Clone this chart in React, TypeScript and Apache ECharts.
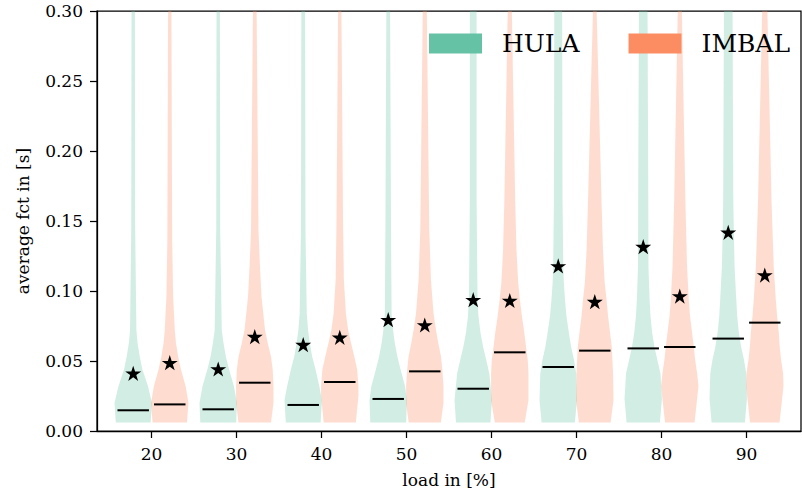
import React, { useEffect, useRef } from "react";
import * as echarts from "echarts";

// ---- data ----
const loads = [20, 30, 40, 50, 60, 70, 80, 90];
const yTicks = [0, 0.05, 0.1, 0.15, 0.2, 0.25, 0.3];

const hulaMeans = [0.0412, 0.0443, 0.0617, 0.0795, 0.0938, 0.1179, 0.1317, 0.1419];
const imbalMeans = [0.0488, 0.0674, 0.0669, 0.0757, 0.0932, 0.0924, 0.0964, 0.1114];

const hulaMedians = [0.0148, 0.0155, 0.0186, 0.0229, 0.0302, 0.0457, 0.059, 0.066];
const imbalMedians = [0.019, 0.0345, 0.035, 0.0426, 0.0562, 0.0574, 0.06, 0.0774];

// violin profiles: [value, relative density (1 = widest)]
const hulaProfiles: number[][][] = [
  [[0.006, 0.93], [0.02, 1], [0.032, 0.79], [0.044, 0.49], [0.053, 0.35], [0.063, 0.23], [0.072, 0.17], [0.144, 0.105], [0.3, 0.09]],
  [[0.006, 0.96], [0.02, 1], [0.032, 0.84], [0.044, 0.58], [0.053, 0.41], [0.063, 0.28], [0.072, 0.19], [0.144, 0.105], [0.3, 0.09]],
  [[0.006, 0.93], [0.022, 1], [0.032, 0.86], [0.044, 0.66], [0.053, 0.48], [0.063, 0.35], [0.072, 0.26], [0.084, 0.19], [0.144, 0.12], [0.3, 0.1]],
  [[0.006, 0.96], [0.022, 1], [0.032, 0.9], [0.044, 0.66], [0.053, 0.49], [0.063, 0.35], [0.072, 0.26], [0.084, 0.18], [0.144, 0.15], [0.3, 0.1]],
  [[0.006, 0.92], [0.022, 1], [0.041, 0.86], [0.051, 0.69], [0.06, 0.53], [0.07, 0.39], [0.082, 0.28], [0.094, 0.23], [0.165, 0.18], [0.3, 0.18]],
  [[0.006, 0.89], [0.022, 1], [0.041, 0.96], [0.051, 0.84], [0.06, 0.69], [0.07, 0.57], [0.082, 0.44], [0.094, 0.36], [0.106, 0.3], [0.117, 0.27], [0.165, 0.23], [0.3, 0.21]],
  [[0.006, 0.89], [0.023, 1], [0.041, 0.92], [0.051, 0.75], [0.06, 0.6], [0.07, 0.48], [0.082, 0.39], [0.094, 0.34], [0.117, 0.28], [0.165, 0.27], [0.3, 0.23]],
  [[0.006, 0.89], [0.023, 1], [0.041, 0.96], [0.051, 0.84], [0.06, 0.69], [0.07, 0.57], [0.082, 0.48], [0.094, 0.43], [0.117, 0.34], [0.141, 0.3], [0.165, 0.27], [0.3, 0.23]],
];

const imbalProfiles: number[][][] = [
  [[0.006, 0.92], [0.02, 1], [0.032, 0.85], [0.044, 0.6], [0.053, 0.45], [0.063, 0.33], [0.072, 0.27], [0.096, 0.18], [0.136, 0.13], [0.3, 0.09]],
  [[0.006, 0.87], [0.02, 1], [0.032, 1], [0.044, 0.96], [0.053, 0.87], [0.063, 0.69], [0.072, 0.55], [0.096, 0.36], [0.12, 0.27], [0.144, 0.2], [0.3, 0.1]],
  [[0.006, 0.86], [0.025, 1], [0.032, 1], [0.044, 0.93], [0.053, 0.78], [0.063, 0.6], [0.072, 0.45], [0.084, 0.33], [0.108, 0.22], [0.144, 0.18], [0.3, 0.09]],
  [[0.006, 0.86], [0.02, 1], [0.032, 1], [0.044, 0.94], [0.053, 0.87], [0.063, 0.72], [0.072, 0.6], [0.084, 0.47], [0.108, 0.33], [0.144, 0.24], [0.3, 0.11]],
  [[0.006, 0.8], [0.022, 1], [0.041, 1], [0.051, 0.96], [0.06, 0.87], [0.07, 0.78], [0.082, 0.65], [0.094, 0.54], [0.106, 0.45], [0.129, 0.36], [0.165, 0.29], [0.3, 0.11]],
  [[0.006, 0.85], [0.022, 1], [0.041, 0.98], [0.06, 0.91], [0.07, 0.82], [0.082, 0.71], [0.094, 0.63], [0.106, 0.53], [0.129, 0.44], [0.165, 0.36], [0.3, 0.1]],
  [[0.006, 0.79], [0.032, 1], [0.041, 0.93], [0.051, 0.82], [0.06, 0.75], [0.07, 0.66], [0.082, 0.55], [0.094, 0.48], [0.117, 0.39], [0.165, 0.3], [0.3, 0.11]],
  [[0.006, 0.79], [0.032, 1], [0.041, 0.98], [0.051, 0.87], [0.06, 0.8], [0.07, 0.75], [0.082, 0.66], [0.094, 0.59], [0.117, 0.48], [0.165, 0.36], [0.3, 0.14]],
];

// ---- layout constants ----
const OFFSET = 2.15; // violin centre offset from load tick
const MAXHALF = 2.2; // widest half-width in x units
const MEDHALF = 1.85; // half length of median line in x units
const FONT = "DejaVu Serif";

const STAR =
  "path://M0 -1 L-0.2245 -0.309 L-0.9511 -0.309 L-0.3633 0.118 L-0.5878 0.809 L0 0.382 L0.5878 0.809 L0.3633 0.118 L0.9511 -0.309 L0.2245 -0.309 Z";

function makeRenderItem(profiles: number[][][], medians: number[], offset: number, fill: string) {
  return (params: any, api: any) => {
    const i = params.dataIndex;
    const cx = api.value(0) + offset;
    const prof = profiles[i];
    const pts: number[][] = [];
    for (const [v, d] of prof) pts.push(api.coord([cx + d * MAXHALF, v]));
    for (let k = prof.length - 1; k >= 0; k--) pts.push(api.coord([cx - prof[k][1] * MAXHALF, prof[k][0]]));
    const m = medians[i];
    const a = api.coord([cx - MEDHALF, m]);
    const b = api.coord([cx + MEDHALF, m]);
    return {
      type: "group",
      children: [
        { type: "polygon", shape: { points: pts }, style: { fill } },
        {
          type: "line",
          z2: 10,
          shape: { x1: a[0], y1: a[1], x2: b[0], y2: b[1] },
          style: { stroke: "#000", lineWidth: 2 },
        },
      ],
    };
  };
}

export default function App() {
  const ref = useRef<HTMLDivElement>(null);
  useEffect(() => {
    if (!ref.current) return;
    const chart = echarts.init(ref.current, undefined, { renderer: "svg" });
    const option: any = {
      animation: false,
      backgroundColor: "#fff",
      textStyle: { fontFamily: FONT },
      grid: {
        left: 97,
        right: 1,
        top: 11,
        bottom: 63,
        show: true,
        borderColor: "#000",
        borderWidth: 1.25,
      },
      legend: {
        data: ["HULA", "IMBAL"],
        left: 429,
        top: 31,
        padding: 0,
        icon: "rect",
        itemWidth: 53,
        itemHeight: 20,
        itemGap: 49,
        textStyle: { fontFamily: FONT, fontSize: 25, color: "#000", padding: [0, 0, 0, 15] },
      },
      xAxis: {
        type: "value",
        min: 13.59,
        max: 96.41,
        name: "load in [%]",
        nameLocation: "middle",
        nameGap: 40,
        nameTextStyle: { fontFamily: FONT, fontSize: 17, color: "#000" },
        axisLine: { show: true, lineStyle: { color: "#000", width: 1.25 } },
        axisTick: { show: true, length: 7, customValues: loads, lineStyle: { color: "#000", width: 1.25 } },
        axisLabel: {
          customValues: loads,
          margin: 14,
          fontFamily: FONT,
          fontSize: 17,
          color: "#000",
          formatter: (v: number) => String(Math.round(v)),
        },
        splitLine: { show: false },
      },
      yAxis: {
        type: "value",
        min: yTicks[0],
        max: yTicks[yTicks.length - 1],
        interval: 0.05,
        name: "average fct in [s]",
        nameLocation: "middle",
        nameGap: 66,
        nameTextStyle: { fontFamily: FONT, fontSize: 17, color: "#000" },
        axisLine: { show: true, lineStyle: { color: "#000", width: 1.25 } },
        axisTick: { show: true, length: 7, lineStyle: { color: "#000", width: 1.25 } },
        axisLabel: {
          margin: 14,
          fontFamily: FONT,
          fontSize: 17,
          color: "#000",
          formatter: (v: number) => v.toFixed(2),
        },
        splitLine: { show: false },
      },
      series: [
        {
          name: "HULA",
          type: "custom",
          color: "#66c2a5",
          itemStyle: { color: "#66c2a5" },
          renderItem: makeRenderItem(hulaProfiles, hulaMedians, -OFFSET, "rgba(102,194,165,0.3)"),
          data: loads.map((l, i) => [l, hulaMedians[i]]),
          encode: { x: 0, y: 1 },
          z: 1,
        },
        {
          name: "IMBAL",
          type: "custom",
          color: "#fc8d62",
          itemStyle: { color: "#fc8d62" },
          renderItem: makeRenderItem(imbalProfiles, imbalMedians, OFFSET, "rgba(252,141,98,0.3)"),
          data: loads.map((l, i) => [l, imbalMedians[i]]),
          encode: { x: 0, y: 1 },
          z: 1,
        },
        {
          name: "HULA mean",
          type: "scatter",
          symbol: STAR,
          symbolSize: [16, 15.2],
          itemStyle: { color: "#000", opacity: 1 },
          data: loads.map((l, i) => [l - OFFSET, hulaMeans[i]]),
          z: 5,
        },
        {
          name: "IMBAL mean",
          type: "scatter",
          symbol: STAR,
          symbolSize: [16, 15.2],
          itemStyle: { color: "#000", opacity: 1 },
          data: loads.map((l, i) => [l + OFFSET, imbalMeans[i]]),
          z: 5,
        },
      ],
    };
    chart.setOption(option);
    return () => chart.dispose();
  }, []);
  return (
    <div
      ref={ref}
      style={{ position: "absolute", left: 0, top: 0, width: 802, height: 494 }}
    />
  );
}
